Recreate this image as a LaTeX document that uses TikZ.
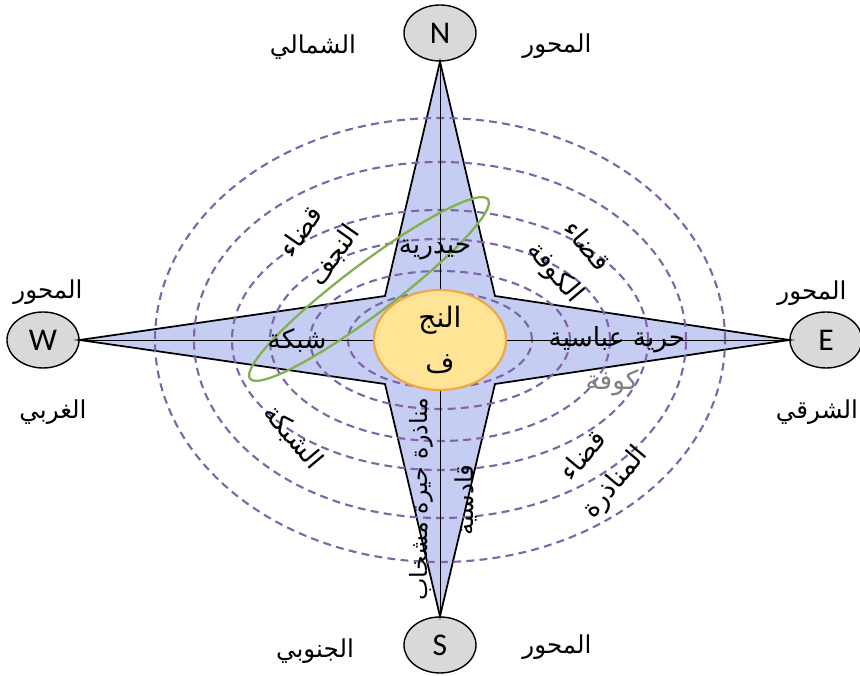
\documentclass[tikz,border=0pt]{standalone}
\usepackage{fontspec}
\usepackage{xcolor}
\usepackage{tikz}
\usetikzlibrary{shapes.geometric,calc}
\TeXXeTstate=1
\newfontfamily\arabicfont[Script=Arabic]{DejaVu Sans}
\newfontfamily\polefont{Carlito}

\definecolor{starblue}{RGB}{198,205,243}
\definecolor{ringpurple}{RGB}{128,100,170}
\definecolor{coreyellow}{RGB}{255,228,150}
\definecolor{coreorange}{RGB}{240,165,70}
\definecolor{loopgreen}{RGB}{130,176,80}
\definecolor{polegray}{RGB}{217,217,217}

\tikzset{
  pole/.style={ellipse,draw,thick,fill=polegray,minimum width=1.44cm,minimum height=1.12cm,
    inner sep=0pt,font=\polefont\fontsize{18}{20}\selectfont},
  ring/.style={draw=ringpurple,line width=1.2pt,dash pattern=on 4.5pt off 3pt},
  arlbl/.style={font=\arabicfont\fontsize{15}{23}\selectfont,inner sep=0pt},
  arpole/.style={font=\arabicfont\fontsize{14}{16}\selectfont,inner sep=0pt}
}

\begin{document}
\begin{tikzpicture}
    \useasboundingbox (-8.8,-6.72) rectangle (8.4,6.8);
    % Pole der vier Achsen
    \node[pole] (N) at (0,6.14) {N};
    \node[pole] (S) at (0,-6.1) {S};
    \node[pole] (W) at (-7.94,0) {W};
    \node[pole] (E) at (7.72,0) {E};
    % Stern
    \filldraw[fill=starblue,draw=black,line width=1pt] (N.south) -- (1.1,0.88) -- (E.west)
      -- (1.1,-0.88) -- (S.north) -- (-1.1,-0.88) -- (W.east) -- (-1.1,0.88) -- cycle;
    % Ringe
    \foreach \rx/\ry in {5.7/4.44,4.92/3.56,4.16/2.6,3.4/2.02,2.6/1.38,1.84/0.96}{
      \draw[ring] (0,0) ellipse ({\rx} and {\ry});
    }
    \draw[line width=0.5pt] (N) -- (S);
    \draw[line width=0.5pt] (W) -- (E);
    % Zentrum
    \node[ellipse,draw=coreorange,line width=1.2pt,fill=coreyellow,minimum width=2.64cm,
      minimum height=2.0cm,inner sep=0pt,align=center,font=\arabicfont\fontsize{16}{25.6}\selectfont]
      (najaf) at (0,0) {\beginR النج\endR\\\beginR ف\endR};
    \draw[draw=loopgreen,line width=1.3pt,rotate around={37:(-1.42,1.02)}]
      (-1.42,1.02) ellipse (2.98 and 0.5);
    % Achsenbeschriftung
    \node[arpole] (ntext) at (-2.54,5.86) {\arabicfont\beginR الشمالي\endR};
    \node[arpole] (naxis) at (2.34,5.88) {\arabicfont\beginR المحور\endR};
    \node[arpole] (waxis) at (-7.84,0.96) {\arabicfont\beginR المحور\endR};
    \node[arpole] (wtext) at (-7.74,-1.44) {\arabicfont\beginR الغربي\endR};
    \node[arpole] (eaxis) at (7.44,0.94) {\arabicfont\beginR المحور\endR};
    \node[arpole] (etext) at (7.54,-1.44) {\arabicfont\beginR الشرقي\endR};
    \node[arpole] (stext) at (-2.5,-6.22) {\arabicfont\beginR الجنوبي\endR};
    \node[arpole] (saxis) at (2.34,-6.14) {\arabicfont\beginR المحور\endR};
    % Bezirke
    \node[arlbl] (haid) at (-0.1,1.8) {\arabicfont\beginR حيدرية\endR};
    \node[arlbl] (shab) at (-2.86,0) {\arabicfont\beginR شبكة\endR};
    \node[arlbl] (hurr) at (3.54,0) {\arabicfont\beginR حرية عباسية\endR};
    \node[arlbl,text=gray] (kufa) at (3.44,-0.86) {\arabicfont\beginR كوفة\endR};
    \node[arlbl,align=center,rotate=55] (qnaj) at (-2.44,1.92)
      {\beginR قضاء\endR\\\beginR النجف\endR};
    \node[arlbl,align=center,rotate=-50] (qkuf) at (2.6,1.6)
      {\beginR قضاء\endR\\\beginR الكوفة\endR};
    \node[arlbl,rotate=-50] (qsha) at (-2.94,-1.94) {\arabicfont\beginR الشبكة\endR};
    \node[arlbl,align=center,rotate=50] (qman) at (3.2,-2.6)
      {\beginR قضاء\endR\\\beginR المناذرة\endR};
    \node[arlbl,rotate=90,font=\arabicfont\fontsize{13.5}{16}\selectfont] (manh) at (-0.38,-3.18)
      {\beginR مناذرة حيرة مشخاب\endR};
    \node[arlbl,rotate=90,font=\arabicfont\fontsize{14}{16}\selectfont] (qads) at (0.52,-3.2)
      {\beginR قادسية\endR};
  \end{tikzpicture}
\end{document}
